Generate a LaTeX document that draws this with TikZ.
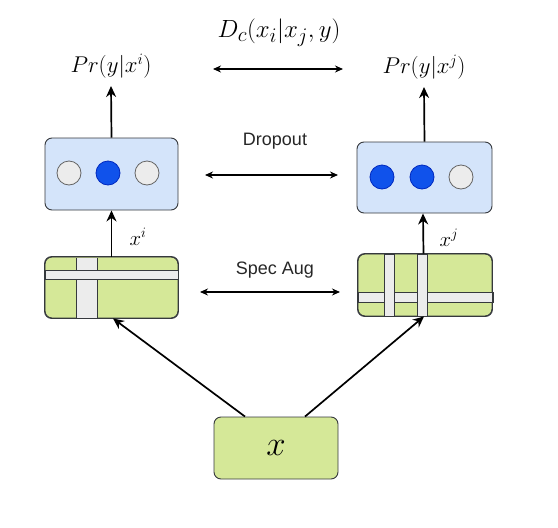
\documentclass[tikz,border=0pt]{standalone}
\usepackage{graphicx}
\usepackage{fontspec}
\newfontfamily\lab{Liberation Sans}
\usetikzlibrary{arrows.meta}
\definecolor{gfill}{RGB}{213,232,152}
\definecolor{bfill}{RGB}{212,228,250}
\definecolor{edge}{RGB}{54,57,61}
\definecolor{bdot}{RGB}{16,82,235}
\definecolor{bdotedge}{RGB}{0,40,190}
\definecolor{gdot}{RGB}{236,236,236}
\definecolor{gdotedge}{RGB}{100,100,100}
\definecolor{stripe}{RGB}{236,236,236}
\tikzset{
  box/.style={draw=edge, line width=0.9pt, rounded corners=7, inner sep=0pt},
  greenbox/.style={box, fill=gfill},
  bluebox/.style={box, fill=bfill},
  on/.style={circle, draw=bdotedge, fill=bdot, line width=0.8pt, minimum size=24pt, inner sep=0pt},
  off/.style={circle, draw=gdotedge, fill=gdot, line width=0.8pt, minimum size=24pt, inner sep=0pt},
  strip/.style={draw=edge, fill=stripe, line width=0.8pt},
  up/.style={-{Stealth[length=11pt,width=10pt]}, line width=1.7pt},
  both/.style={{Stealth[length=8pt,width=7pt]}-{Stealth[length=8pt,width=7pt]}, line width=1.1pt},
  mathlab/.style={font=\fontsize{20.74}{25}\selectfont, inner sep=0pt},
  txt/.style={font=\lab\fontsize{18}{21}\selectfont, text=black!85, inner sep=0pt}
}
\begin{document}
\begin{tikzpicture}[x=1pt,y=-1pt]
\useasboundingbox (0,0) rectangle (558,528);
% boxes
\node[bluebox, minimum width=133pt, minimum height=72pt] (lb) at (111.5,174) {};
\node[bluebox, minimum width=135pt, minimum height=71pt] (rb) at (424.5,177.5) {};
\node[greenbox, minimum width=133pt, minimum height=61pt] (lg) at (111.5,287.5) {};
\node[greenbox, minimum width=134pt, minimum height=62pt] (rg) at (425,285) {};
\node[greenbox, minimum width=124pt, minimum height=62pt, font=\fontsize{24.88}{28}\selectfont] (xb) at (276,448) {\scalebox{1.4}{$x$}};
% stripes left
\fill[stripe] (76,257.5) rectangle (97,317.5);
\draw[strip] (76,257.5) -- (76,270) (97,257.5) -- (97,270) (76,279) -- (76,317.5) (97,279) -- (97,317.5);
\draw[strip] (45,270) rectangle (178,279);
\draw[box, fill=none] (lg.south west) rectangle (lg.north east);
% stripes right
\draw[strip] (358,292) rectangle (493,302);
\draw[strip] (384,254) rectangle (394,316);
\draw[strip] (417,254) rectangle (427,316);
\draw[box, fill=none] (rg.south west) rectangle (rg.north east);
% dots
\node[off] (l1) at (69,173) {};
\node[on]  (l2) at (108,173) {};
\node[off] (l3) at (147,173) {};
\node[on]  (r1) at (382,177) {};
\node[on]  (r2) at (422,177) {};
\node[off] (r3) at (461,177) {};
% labels
\node[mathlab] (pri) at (111,66) {\scalebox{1.1}{$Pr(y|x^i)$}};
\node[mathlab] (prj) at (424,67) {\scalebox{1.1}{$Pr(y|x^j)$}};
\node[mathlab, font=\fontsize{24.88}{29}\selectfont] (dc) at (279,33) {$D_c(x_i|x_j,y)$};
\node[txt] (drop) at (275,141) {Dropout};
\node[txt] (spec) at (275,270) {Spec Aug};
\node[mathlab] (xi) at (138,237) {$x^i$};
\node[mathlab] (xj) at (449,238) {$x^j$};
% coordinates for free arrow ends
\coordinate (t1) at (213,69); \coordinate (t2) at (343,69);
\coordinate (d1) at (205,175); \coordinate (d2) at (338,175);
\coordinate (s1) at (200,292); \coordinate (s2) at (340,292);
\coordinate (pia) at (111,86); \coordinate (pja) at (424,87);
% arrows
\draw[up] (lb.north) -- (pia);
\draw[up] (rb.north) -- (pja);
\draw[up] (lg.north) -- (lb.south);
\draw[up] ([xshift=-1.5pt]rg.north) -- ([xshift=-1.5pt]rb.south);
\draw[up] ([xshift=-31pt]xb.north) -- ([xshift=1.5pt]lg.south);
\draw[up] ([xshift=29pt]xb.north) -- ([xshift=-1pt]rg.south);
\draw[both] (t1) -- (t2);
\draw[both] (d1) -- (d2);
\draw[both] (s1) -- (s2);
\end{tikzpicture}
\end{document}
